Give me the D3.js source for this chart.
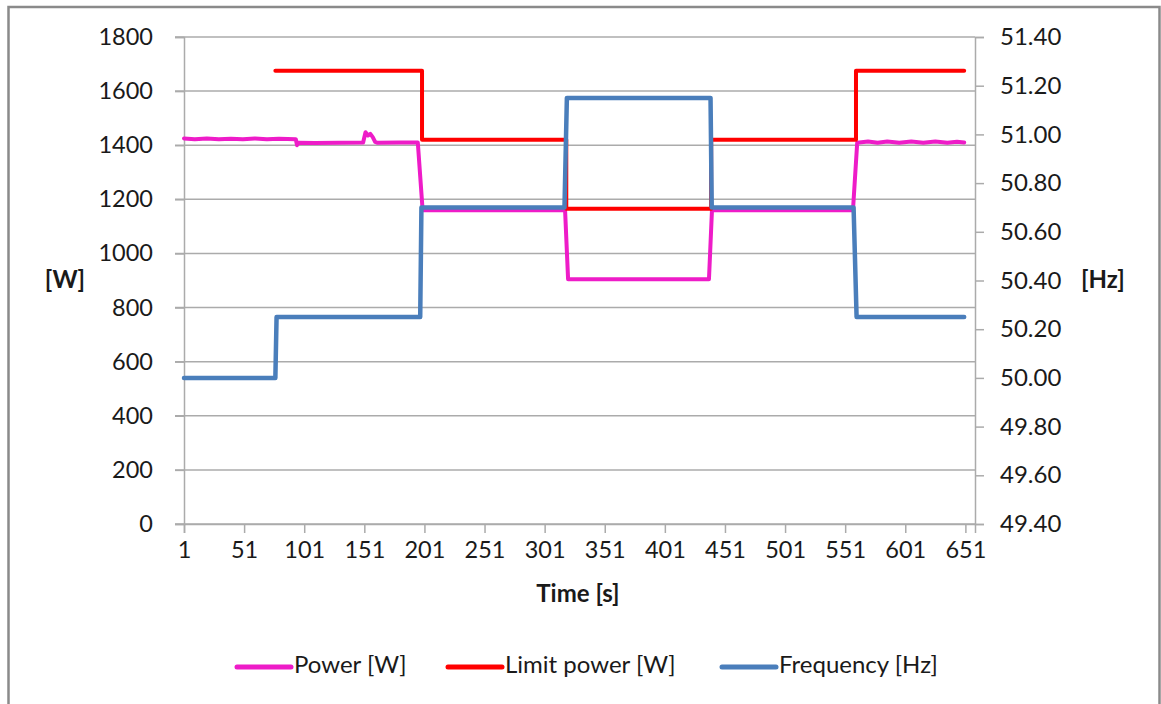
<!DOCTYPE html>
<html>
<head>
<meta charset="utf-8">
<script src="https://cdn.jsdelivr.net/npm/d3@7"></script>
<style>
  html, body { margin: 0; padding: 0; background: #ffffff; }
  svg { display: block; }
  text { font-family: Lato, "Open Sans", sans-serif; fill: #1a1a1a; }
</style>
</head>
<body>
<svg id="chart" width="1161" height="704"></svg>
<script>
// ---------- data ----------
const timeTicks = [1, 51, 101, 151, 201, 251, 301, 351, 401, 451, 501, 551, 601, 651];
const powerTicks = [0, 200, 400, 600, 800, 1000, 1200, 1400, 1600, 1800];
const freqTicks = [49.4, 49.6, 49.8, 50.0, 50.2, 50.4, 50.6, 50.8, 51.0, 51.2, 51.4];

// Power [W] (time, value)
const powerTime = [1, 10, 20, 30, 40, 50, 60, 70, 80, 94, 95, 96, 110, 130, 150, 152, 154, 156, 158, 160, 162, 180, 195.5,
                   199.5, 318, 320.5, 437.7, 440.2, 557.5, 561, 570, 578, 586, 596, 606, 616, 626, 636, 644, 650];
const powerW    = [1425, 1422, 1425, 1422, 1424, 1422, 1425, 1422, 1424, 1422, 1400, 1409, 1408, 1409, 1410, 1448, 1436, 1442, 1430, 1412, 1409, 1410, 1410,
                   1160, 1160, 905, 905, 1160, 1160, 1409, 1414, 1409, 1414, 1409, 1414, 1409, 1414, 1409, 1413, 1410];

// Limit power [W]
const limitTime = [77, 199, 199, 319, 319, 439.5, 439.5, 560, 560, 650];
const limitW    = [1675, 1675, 1420, 1420, 1165, 1165, 1420, 1420, 1675, 1675];

// Frequency [Hz]
const freqTime = [1, 77, 78, 197.5, 198.5, 317.5, 319.5, 439, 440, 558, 560.5, 650];
const freqHz   = [50.00, 50.00, 50.25, 50.25, 50.70, 50.70, 51.15, 51.15, 50.70, 50.70, 50.25, 50.25];

const seriesNames = ["Power [W]", "Limit power [W]", "Frequency [Hz]"];
const seriesColors = ["#ee1cc8", "#ff0000", "#4a7ebb"];

// ---------- layout ----------
const svg = d3.select("#chart");
const L = 184, R = 975, T = 37, B = 524;

const x = d3.scaleLinear().domain([1, 659]).range([L, R]);
const yL = d3.scaleLinear().domain([0, 1800]).range([B, T]);
const yR = d3.scaleLinear().domain([49.4, 51.4]).range([B, T]);

// outer frame
svg.append("path")
  .attr("d", `M8.5,710 L8.5,7 L1159.5,7 L1159.5,710`)
  .attr("fill", "none").attr("stroke", "#8a8a8a").attr("stroke-width", 2.5);

const gridColor = "#ababab";

// horizontal gridlines (left axis)
svg.append("g").selectAll("line").data(powerTicks).join("line")
  .attr("x1", L - 9).attr("x2", R)
  .attr("y1", d => yL(d)).attr("y2", d => yL(d))
  .attr("stroke", gridColor).attr("stroke-width", 1.5);

// left axis
const gLeft = svg.append("g").attr("transform", `translate(${L},0)`)
  .call(d3.axisLeft(yL).tickValues(powerTicks).tickSize(9).tickPadding(22).tickFormat(d3.format("d")));
gLeft.select(".domain").attr("stroke", gridColor).attr("stroke-width", 1.5);
gLeft.selectAll(".tick line").attr("stroke", gridColor).attr("stroke-width", 1.5);
gLeft.selectAll("text").attr("font-size", 23.5).attr("fill", "#1a1a1a").attr("font-family", "Lato");

// right axis
const gRight = svg.append("g").attr("transform", `translate(${R},0)`)
  .call(d3.axisRight(yR).tickValues(freqTicks).tickSize(9).tickPadding(16).tickFormat(d3.format(".2f")));
gRight.select(".domain").attr("stroke", gridColor).attr("stroke-width", 1.5);
gRight.selectAll(".tick line").attr("stroke", gridColor).attr("stroke-width", 1.5);
gRight.selectAll("text").attr("font-size", 24).attr("fill", "#1a1a1a").attr("font-family", "Lato");

// bottom axis
const gBottom = svg.append("g").attr("transform", `translate(0,${B})`)
  .call(d3.axisBottom(x).tickValues(timeTicks).tickSize(9).tickPadding(8).tickFormat(d3.format("d")));
gBottom.select(".domain").attr("stroke", gridColor).attr("stroke-width", 1.5);
gBottom.selectAll(".tick line").attr("stroke", gridColor).attr("stroke-width", 1.5);
gBottom.selectAll("text").attr("font-size", 23.5).attr("fill", "#1a1a1a").attr("font-family", "Lato");

// axis titles
svg.append("text").attr("x", 65).attr("y", 282).attr("text-anchor", "middle").attr("dominant-baseline", "middle")
  .attr("font-size", 24).attr("font-weight", "bold").text("[W]");
svg.append("text").attr("x", 1103).attr("y", 282).attr("text-anchor", "middle").attr("dominant-baseline", "middle")
  .attr("font-size", 24).attr("font-weight", "bold").text("[Hz]");
svg.append("text").attr("x", 578).attr("y", 596).attr("text-anchor", "middle").attr("dominant-baseline", "middle")
  .attr("font-size", 24).attr("font-weight", "bold").text("Time [s]");

// series
const lineL = d3.line().x(d => x(d[0])).y(d => yL(d[1]));
const lineR = d3.line().x(d => x(d[0])).y(d => yR(d[1]));

const powerData = d3.zip(powerTime, powerW);
const limitData = d3.zip(limitTime, limitW);
const freqData = d3.zip(freqTime, freqHz);

svg.append("path").datum(powerData).attr("d", lineL)
  .attr("fill", "none").attr("stroke", seriesColors[0]).attr("stroke-width", 4)
  .attr("stroke-linejoin", "round").attr("stroke-linecap", "round");
svg.append("path").datum(limitData).attr("d", lineL)
  .attr("fill", "none").attr("stroke", seriesColors[1]).attr("stroke-width", 4)
  .attr("stroke-linejoin", "round").attr("stroke-linecap", "round");
svg.append("path").datum(freqData).attr("d", lineR)
  .attr("fill", "none").attr("stroke", seriesColors[2]).attr("stroke-width", 4.5)
  .attr("stroke-linejoin", "round").attr("stroke-linecap", "round");

// legend
const legendX = [237, 448, 722];
const lg = svg.append("g");
seriesNames.forEach((name, i) => {
  lg.append("line").attr("x1", legendX[i]).attr("x2", legendX[i] + 54)
    .attr("y1", 667).attr("y2", 667)
    .attr("stroke", seriesColors[i]).attr("stroke-width", 5).attr("stroke-linecap", "round");
  lg.append("text").attr("x", legendX[i] + 57).attr("y", 667).attr("dominant-baseline", "middle")
    .attr("font-size", 24).text(name);
});
</script>
</body>
</html>
